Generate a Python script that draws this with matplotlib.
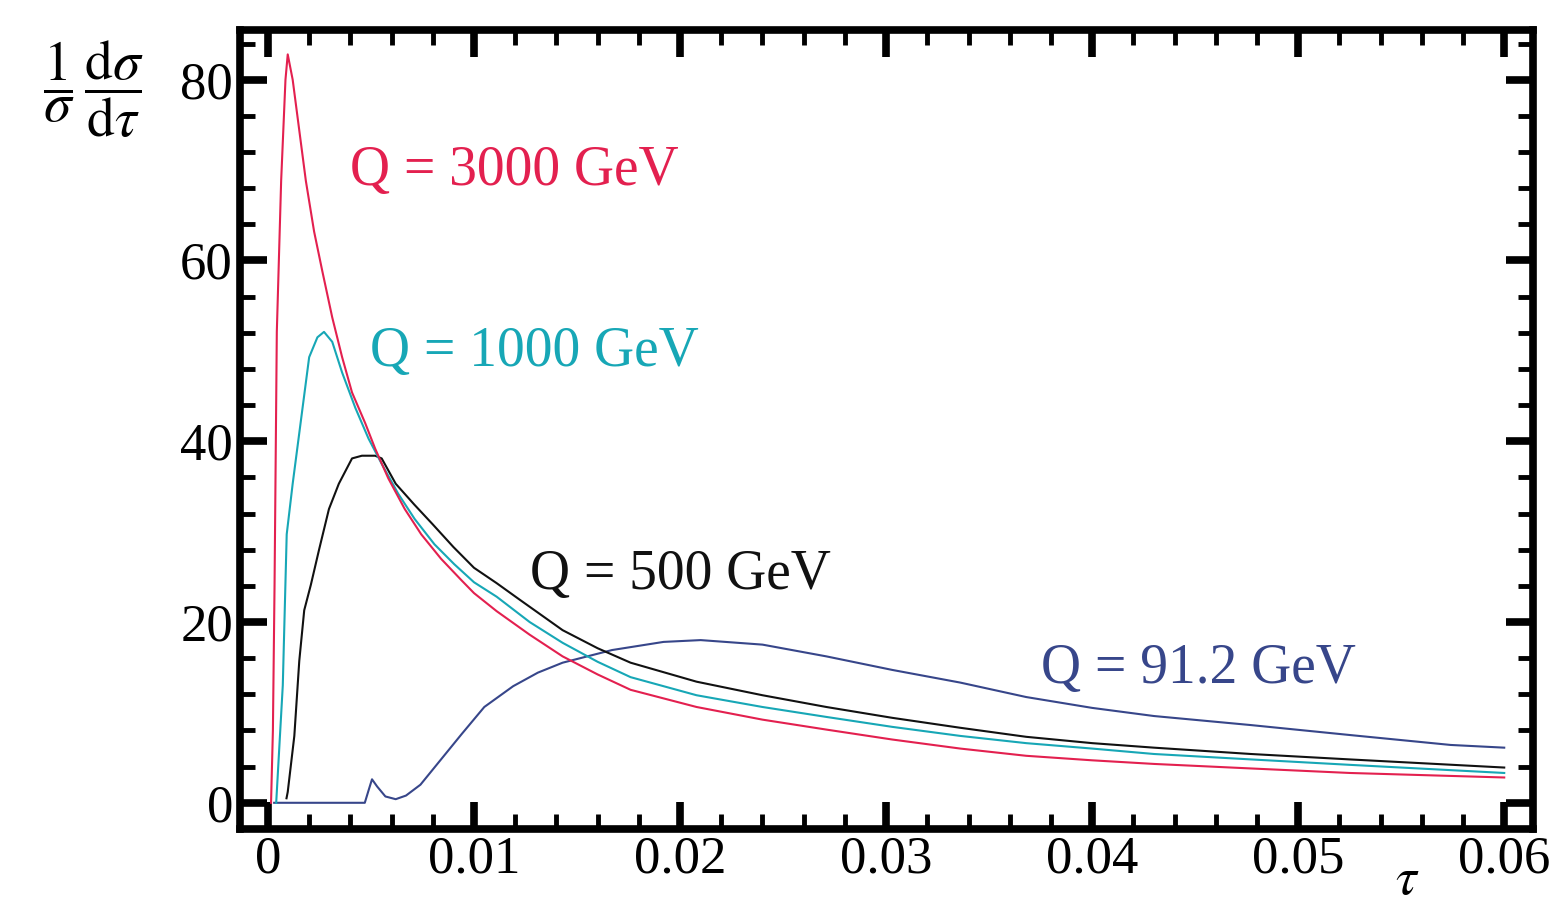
import matplotlib
matplotlib.use("Agg")
import matplotlib.pyplot as plt
from matplotlib.ticker import MultipleLocator

plt.rcParams['font.family'] = ['Liberation Serif', 'DejaVu Serif']
plt.rcParams['mathtext.fontset'] = 'stix'

# thrust distributions, (1/sigma) dsigma/dtau against tau
tau_3000 = [0.00015, 0.00024, 0.00032, 0.00043, 0.00064, 0.00085, 0.00096, 0.0012,
            0.00152, 0.00184, 0.00224, 0.00264, 0.00312, 0.0036, 0.00408, 0.00472,
            0.0052, 0.00584, 0.00664, 0.00744, 0.0084, 0.0094, 0.0100, 0.0111,
            0.0127, 0.0143, 0.0160, 0.0176, 0.0208, 0.0240, 0.0271, 0.0303,
            0.0336, 0.0368, 0.0400, 0.0430, 0.0477, 0.0525, 0.0600]
val_3000 = [0.0, 8.0, 24.1, 52.1, 68.8, 80.0, 82.8, 80.0,
            74.4, 68.8, 63.2, 58.8, 53.7, 49.3, 45.4, 42.0,
            39.2, 35.9, 32.5, 29.7, 27.0, 24.6, 23.2, 21.2,
            18.6, 16.2, 14.2, 12.5, 10.6, 9.2, 8.1, 7.0,
            6.0, 5.2, 4.7, 4.3, 3.8, 3.3, 2.8]

tau_1000 = [0.0004, 0.00072, 0.00091, 0.0012, 0.00168, 0.0020, 0.0024, 0.00272,
            0.00312, 0.0036, 0.00424, 0.00488, 0.00552, 0.00632, 0.00712, 0.00808,
            0.00904, 0.0100, 0.0111, 0.0127, 0.0143, 0.0160, 0.0176, 0.0208,
            0.0240, 0.0271, 0.0303, 0.0336, 0.0368, 0.0400, 0.0430, 0.0477,
            0.0525, 0.0600]
val_1000 = [0.0, 13.0, 29.7, 35.3, 43.7, 49.3, 51.5, 52.1,
            51.0, 47.6, 43.7, 40.3, 37.5, 34.2, 31.4, 28.6,
            26.4, 24.4, 22.8, 20.0, 17.7, 15.6, 13.9, 11.9,
            10.6, 9.5, 8.4, 7.4, 6.6, 6.0, 5.4, 4.8,
            4.2, 3.3]

tau_500 = [0.0009, 0.00096, 0.00128, 0.00152, 0.00176, 0.00208, 0.00248, 0.00296,
           0.00344, 0.00408, 0.00456, 0.0052, 0.00552, 0.0062, 0.0071, 0.0080,
           0.0090, 0.0100, 0.0111, 0.0122, 0.0143, 0.0160, 0.0176, 0.0208,
           0.0240, 0.0271, 0.0303, 0.0336, 0.0368, 0.0400, 0.0430, 0.0477,
           0.0525, 0.0600]
val_500 = [0.5, 1.2, 7.4, 15.7, 21.3, 24.1, 28.0, 32.5,
           35.3, 38.1, 38.4, 38.4, 38.1, 35.3, 33.0, 30.8,
           28.3, 26.0, 24.3, 22.5, 19.1, 17.1, 15.5, 13.4,
           11.9, 10.6, 9.4, 8.3, 7.3, 6.6, 6.1, 5.4,
           4.8, 3.9]

tau_912 = [0.0003, 0.0047, 0.0049, 0.00505, 0.0053, 0.0057, 0.0062, 0.0067,
           0.0074, 0.0084, 0.0094, 0.0105, 0.0119, 0.0131, 0.0143, 0.0167,
           0.0192, 0.0210, 0.0240, 0.0271, 0.0303, 0.0336, 0.0368, 0.0400,
           0.0430, 0.0477, 0.0525, 0.0574, 0.0600]
val_912 = [0.0, 0.0, 1.5, 2.6, 1.8, 0.7, 0.4, 0.8,
           2.0, 4.8, 7.6, 10.6, 12.9, 14.4, 15.5, 16.9,
           17.8, 18.0, 17.5, 16.2, 14.7, 13.3, 11.7, 10.5,
           9.6, 8.6, 7.5, 6.4, 6.1]

curves = [
    (tau_3000, val_3000, '#e3204f', 'Q = 3000 GeV', 0.0040, 68.4),
    (tau_1000, val_1000, '#17a7b6', 'Q = 1000 GeV', 0.00495, 48.3),
    (tau_500, val_500, '#111111', 'Q = 500 GeV', 0.0127, 23.6),
    (tau_912, val_912, '#37468a', 'Q = 91.2 GeV', 0.0375, 13.3),
]

fig = plt.figure(figsize=(15.58, 9.09), dpi=100)
ax = fig.add_axes([0.154, 0.088, 0.830, 0.879])

# draw back to front so the red curve sits on top
for tau, val, color, label, lx, ly in curves[::-1]:
    ax.plot(tau, val, color=color, lw=1.5)
for tau, val, color, label, lx, ly in curves:
    ax.text(lx, ly, label, color=color, fontsize=40, ha='left', va='baseline')

ax.set_xlim(-0.00136, 0.0614)
ax.set_ylim(-2.9, 85.5)

ax.xaxis.set_minor_locator(MultipleLocator(0.002))
ax.yaxis.set_minor_locator(MultipleLocator(4))
ax.set_xticks([0, 0.01, 0.02, 0.03, 0.04, 0.05, 0.06])
ax.set_xticklabels(['0', '0.01', '0.02', '0.03', '0.04', '0.05', '0.06'])
ax.set_yticks([0, 20, 40, 60, 80])

for s in ax.spines.values():
    s.set_linewidth(5.5)
ax.tick_params(which='both', direction='in', top=True, right=True,
               labelsize=38, color='black')
ax.tick_params(which='major', length=19.5, width=5.5)
ax.tick_params(which='minor', length=11, width=3.5)
ax.tick_params(axis='y', pad=5)
ax.tick_params(axis='x', pad=5)

fig.text(0.060, 0.902, r'$\dfrac{1}{\sigma}\,\dfrac{\mathrm{d}\sigma}{\mathrm{d}\tau}$',
         fontsize=40, ha='center', va='center')
fig.text(0.903, 0.031, r'$\tau$', fontsize=38, ha='center', va='center')

fig.savefig('out.png', dpi=100)
